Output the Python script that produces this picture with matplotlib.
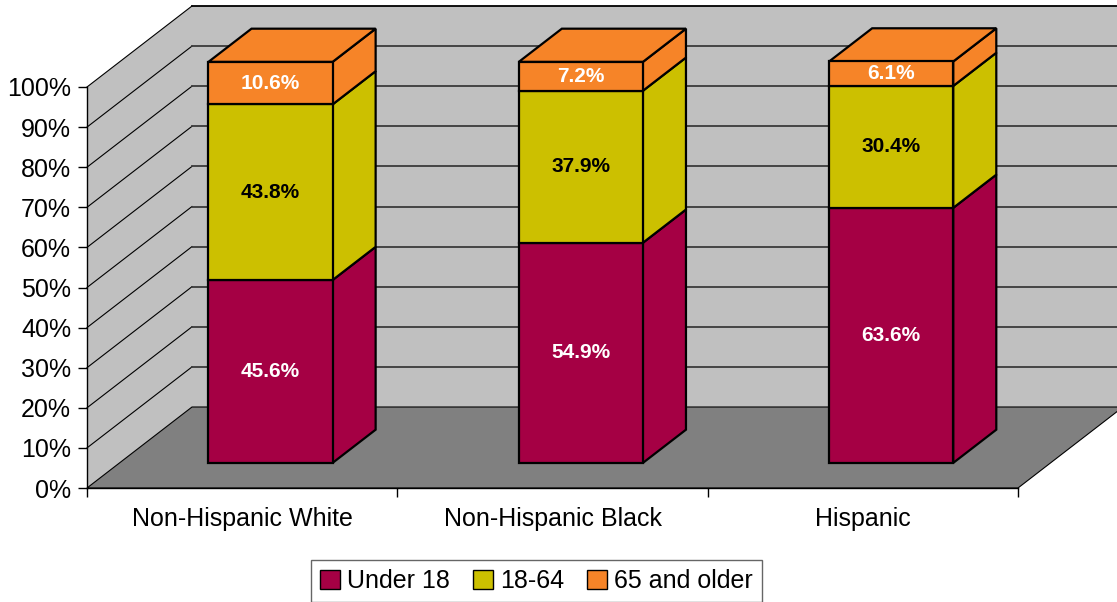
import numpy as np
import matplotlib.pyplot as plt
from matplotlib.patches import Polygon, Patch
from matplotlib.ticker import FuncFormatter

plt.rcParams['font.family'] = ['Liberation Sans', 'DejaVu Sans']

groups = ['Non-Hispanic White', 'Non-Hispanic Black', 'Hispanic']
under18 = [45.6, 54.9, 63.6]
age18_64 = [43.8, 37.9, 30.4]
older65 = [10.6, 7.2, 6.1]

series = [under18, age18_64, older65]
names = ['Under 18', '18-64', '65 and older']
colors = ['#A50044', '#CCC000', '#F68428']
label_colors = ['white', 'black', 'white']

fig = plt.figure(figsize=(11.17, 6.02), dpi=100)
# axes = front plane of the 3d box
ax = fig.add_axes([87/1117, 114/602, 931/1117, 401/602])
ax.set_xlim(0, 3)
ax.set_ylim(0, 100)
ax.patch.set_visible(False)

# depth of the box in data units
DX = 105 / 310.33
DY = 81 / 4.01
f0x, f0y = 0.27, 0.31   # bar front face position in the depth
fd = 0.41               # bar depth as fraction of box depth
bw = 0.4
xr = 3.5


def poly(pts, fc, ec='black', lw=1.0, z=1):
    ax.add_patch(Polygon(pts, closed=True, facecolor=fc, edgecolor=ec,
                         linewidth=lw, zorder=z, clip_on=False, joinstyle='miter'))


# walls and floor
poly([(DX, DY), (xr, DY), (xr, 100 + DY), (DX, 100 + DY)], '#C0C0C0', ec='none', z=0)
poly([(0, 0), (DX, DY), (DX, 100 + DY), (0, 100)], '#C0C0C0', ec='none', z=0)
poly([(0, 0), (3, 0), (3 + DX, DY), (DX, DY)], '#808080', ec='black', lw=0.8, z=1)

# gridlines on the walls
for v in range(10, 101, 10):
    ax.plot([0, DX], [v, v + DY], color='black', lw=0.8, zorder=1, clip_on=False)
    gc = 'black' if v == 100 else '#3a3a3a'
    ax.plot([DX, xr], [v + DY, v + DY], color=gc, lw=1.3, zorder=1, clip_on=False)

# stacked 3d bars
ddx = fd * DX
ddy = fd * DY
for i in range(len(groups)):
    x0 = i + 0.5 - bw / 2 + f0x * DX
    x1 = x0 + bw
    base = f0y * DY
    bottom = 0
    for k, s in enumerate(series):
        v = s[i]
        lo = base + bottom
        hi = lo + v
        poly([(x1, lo), (x1 + ddx, lo + ddy), (x1 + ddx, hi + ddy), (x1, hi)], colors[k], lw=1.6, z=3)
        poly([(x0, lo), (x1, lo), (x1, hi), (x0, hi)], colors[k], lw=1.6, z=4)
        ax.text((x0 + x1) / 2, (lo + hi) / 2, f'{v:.1f}%', ha='center', va='center',
                fontsize=15, fontweight='bold', color=label_colors[k], zorder=5)
        bottom += v
    poly([(x0, hi), (x1, hi), (x1 + ddx, hi + ddy), (x0 + ddx, hi + ddy)], colors[-1], lw=1.6, z=3)

# axes
ax.set_yticks(range(0, 101, 10))
ax.yaxis.set_major_formatter(FuncFormatter(lambda v, p: f'{v:.0f}%'))
ax.set_xticks([0, 1, 2, 3])
ax.set_xticklabels([])
ax.set_xticks([0.5, 1.5, 2.5], minor=True)
ax.set_xticklabels(groups, minor=True)
ax.tick_params(axis='both', which='major', length=6.5, width=1, direction='out',
               labelsize=18, pad=5)
ax.tick_params(axis='x', which='minor', length=0, labelsize=18, pad=14)
for side in ['top', 'right']:
    ax.spines[side].set_visible(False)
for side in ['left', 'bottom']:
    ax.spines[side].set_linewidth(1)
    ax.spines[side].set_zorder(2)

handles = [Patch(facecolor=c, edgecolor='black', linewidth=1) for c in colors]
leg = fig.legend(handles, names, loc='upper center', bbox_to_anchor=(536.5/1117, 1 - 560/602),
                 ncol=3, fontsize=18, frameon=True, fancybox=False, edgecolor='#404040',
                 handlelength=0.8, handleheight=0.8, handletextpad=0.3,
                 columnspacing=0.9, borderpad=0.35, borderaxespad=0)
leg.get_frame().set_linewidth(1)

fig.savefig('out.png', dpi=100)
